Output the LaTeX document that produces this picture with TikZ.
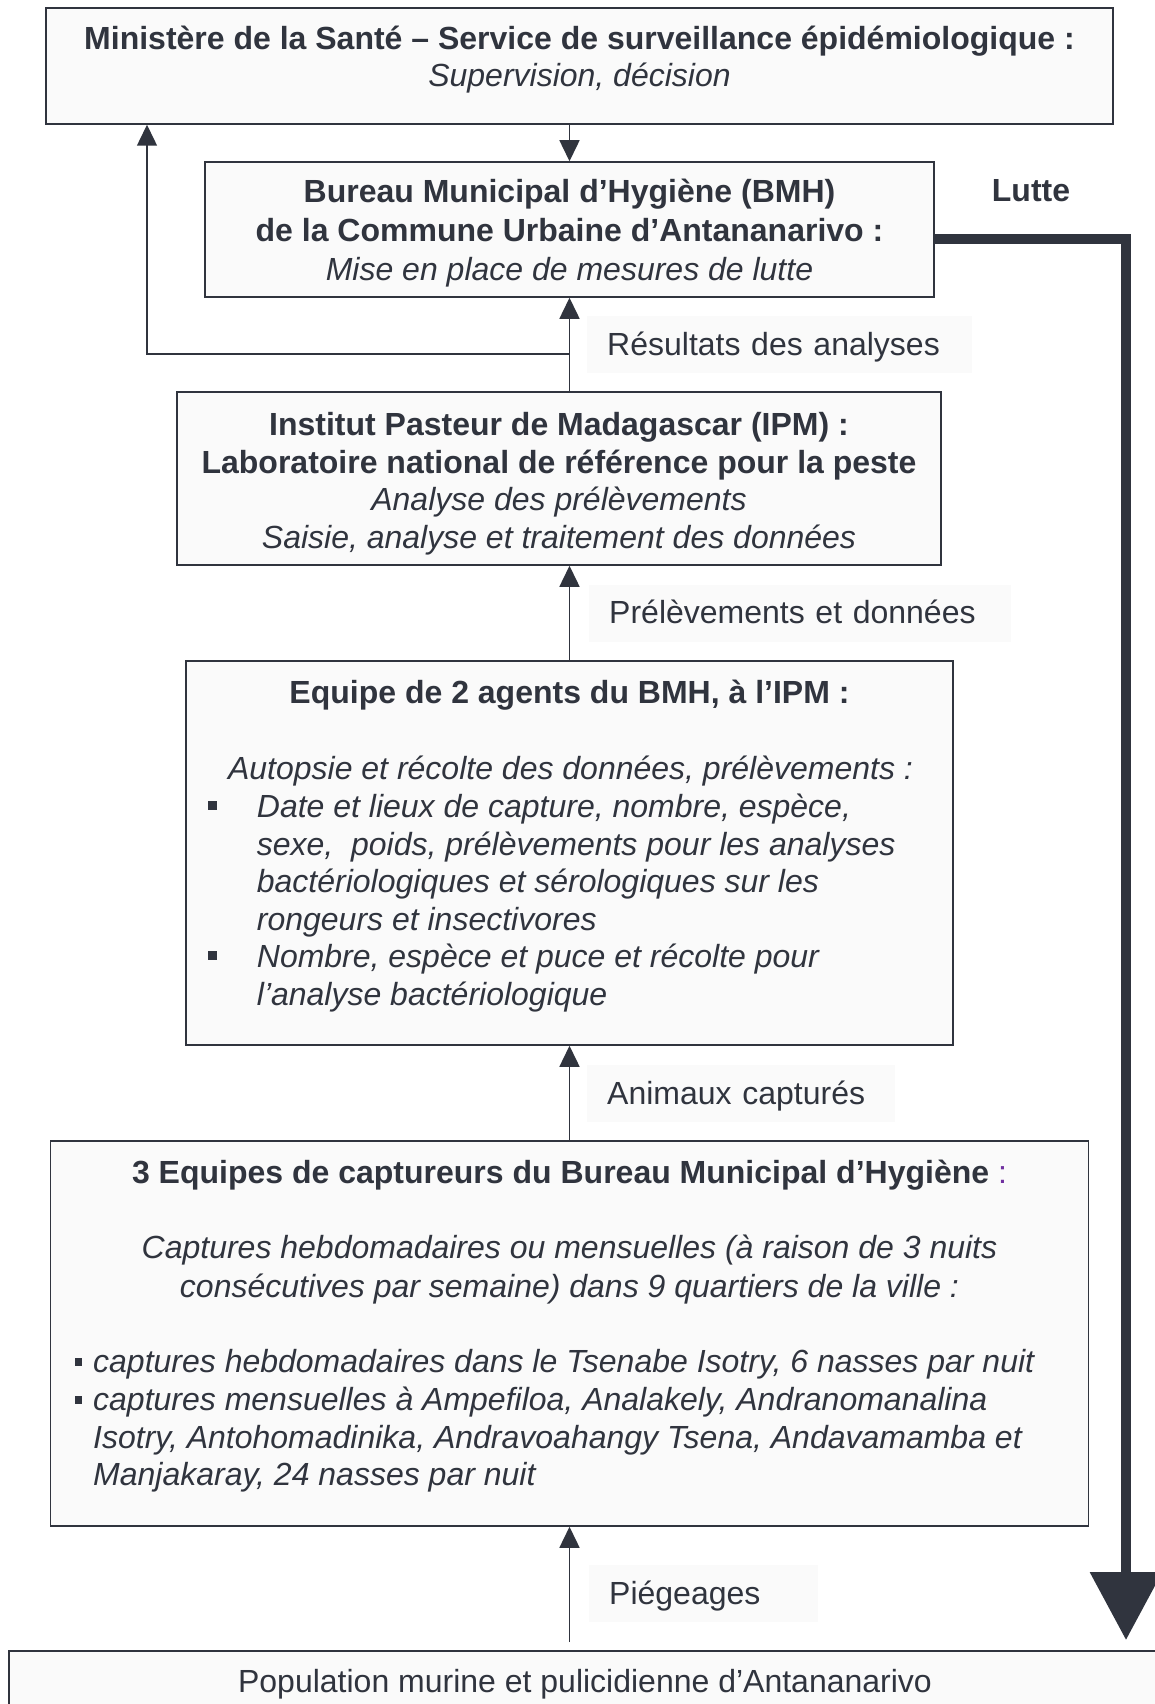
\documentclass[tikz,border=0pt]{standalone}
\usepackage{fontspec}
\setmainfont{Liberation Sans}
\usetikzlibrary{arrows.meta}
\definecolor{ink}{HTML}{30343E}
\definecolor{boxfill}{HTML}{FAFAFA}
\definecolor{colonpurple}{HTML}{7030A0}
\begin{document}
\begin{tikzpicture}[x=1pt,y=-1pt,
  every node/.style={font=\fontsize{32}{38}\selectfont, text=ink},
  box/.style={draw=ink, line width=1.5pt, fill=boxfill, rectangle, inner sep=0pt},
  txt/.style={anchor=base, inner sep=0pt},
  txtl/.style={anchor=base west, inner sep=0pt},
  bftxt/.style={font=\fontsize{32}{38}\selectfont\bfseries},
  ittxt/.style={font=\fontsize{32}{38}\selectfont\itshape},
  lbl/.style={fill=boxfill, anchor=west, inner xsep=20pt, inner ysep=0pt, minimum height=57pt, text height=24pt, text depth=3pt, align=left},
  arr/.style={draw=ink, line width=1.5pt, -{Triangle[width=20pt,length=21pt]}},
  bigarrow/.style={draw=ink, line width=10pt, -{Triangle[width=70pt,length=68pt]}, line join=miter}
]
\useasboundingbox (0,0) rectangle (1155,1704);
\clip (0,0) rectangle (1155,1704);

% ---------- boxes ----------
\node[box, minimum width=1067pt, minimum height=116pt] (top) at (579.5,66) {};
\node[box, minimum width=729pt, minimum height=135pt] (bmh) at (569.5,229.5) {};
\node[box, minimum width=764pt, minimum height=173pt] (ipm) at (559,478.5) {};
\node[box, minimum width=767pt, minimum height=384pt] (equipe) at (569.5,853) {};
\node[box, minimum width=1038pt, minimum height=385pt] (capt) at (569.5,1333.5) {};
\node[box, minimum width=1152pt, minimum height=109pt] (pop) at (585,1705.5) {};

% ---------- texts: top ----------
\node[txt, bftxt] (t1) at (579.5,50) {Ministère de la Santé – Service de surveillance épidémiologique :};
\node[txt, ittxt] (t2) at (579.5,87) {Supervision, décision};

% ---------- texts: BMH ----------
\node[txt, bftxt] (b1) at (569.5,203) {Bureau Municipal d’Hygiène (BMH)};
\node[txt, bftxt] (b2) at (569.5,242) {de la Commune Urbaine d’Antananarivo :};
\node[txt, ittxt] (b3) at (569.5,280) {Mise en place de mesures de lutte};
\node[txt, bftxt] (lutte) at (1031,202) {Lutte};

% ---------- texts: IPM ----------
\node[txt, bftxt] (i1) at (559,435) {Institut Pasteur de Madagascar (IPM) :};
\node[txt, bftxt] (i2) at (559,473) {Laboratoire national de référence pour la peste};
\node[txt, ittxt] (i3) at (559,510) {Analyse des prélèvements};
\node[txt, ittxt] (i4) at (559,548) {Saisie, analyse et traitement des données};

% ---------- texts: Equipe ----------
\node[txt, bftxt] (e1) at (569.5,703) {Equipe de 2 agents du BMH, à l’IPM :};
\node[txt, ittxt] (e2) at (570.5,779) {Autopsie et récolte des données, prélèvements :};
\node[txtl, ittxt] (e3) at (256.7,817) {Date et lieux de capture, nombre, espèce,};
\node[txtl, ittxt] (e4) at (256.7,855) {sexe,\ \ poids, prélèvements pour les analyses};
\node[txtl, ittxt] (e5) at (256.7,892) {bactériologiques et sérologiques sur les};
\node[txtl, ittxt] (e6) at (256.7,930) {rongeurs et insectivores};
\node[txtl, ittxt] (e7) at (256.7,967) {Nombre, espèce et puce et récolte pour};
\node[txtl, ittxt] (e8) at (256.7,1005) {l’analyse bactériologique};
\fill[ink] (207.8,801) rectangle (217,810);
\fill[ink] (207.8,951) rectangle (217,960);

% ---------- texts: captureurs ----------
\node[txt, bftxt] (c1) at (569.5,1183) {3 Equipes de captureurs du Bureau Municipal d’Hygiène{\mdseries\color{colonpurple}\ :}};
\node[txt, ittxt] (c2) at (569.5,1258) {Captures hebdomadaires ou mensuelles (à raison de 3 nuits};
\node[txt, ittxt] (c3) at (569.5,1297) {consécutives par semaine) dans 9 quartiers de la ville :};
\node[txtl, ittxt] (c4) at (93,1372) {captures hebdomadaires dans le Tsenabe Isotry, 6 nasses par nuit};
\node[txtl, ittxt] (c5) at (93,1410) {captures mensuelles à Ampefiloa, Analakely, Andranomanalina};
\node[txtl, ittxt] (c6) at (93,1448) {Isotry, Antohomadinika, Andravoahangy Tsena, Andavamamba et};
\node[txtl, ittxt] (c7) at (93,1485) {Manjakaray, 24 nasses par nuit};
\fill[ink] (75,1358) rectangle (82.3,1366);
\fill[ink] (75,1396) rectangle (82.3,1404);

% ---------- bottom ----------
\node[txt] (p1) at (585,1692) {Population murine et pulicidienne d’Antananarivo};

% ---------- labels ----------
\node[lbl, text width=345pt] (lres) at (587,344.5) {Résultats des analyses};
\node[lbl, text width=382pt] (lprel) at (589,613) {Prélèvements et données};
\node[lbl, text width=268pt] (lanim) at (587,1093.5) {Animaux capturés};
\node[lbl, text width=189pt] (lpieg) at (589,1593.5) {Piégeages};

% ---------- connectors ----------
\coordinate (jn) at (569.5,354);
\coordinate (lft) at (147,354);
\coordinate (pstart) at (569.5,1642);
\coordinate (lutteCorner) at (1126,239);
\coordinate (lutteEnd) at (1126,1640);

\draw[arr] (top.south -| bmh.north) -- (bmh.north);
\draw[arr] (ipm.north -| bmh.south) -- (bmh.south);
\draw[arr] (jn) -- (lft) -- (lft |- top.south);
\draw[arr] (equipe.north) -- (equipe.north |- ipm.south);
\draw[arr] (capt.north) -- (capt.north |- equipe.south);
\draw[arr] (pstart) -- (pstart |- capt.south);
\draw[bigarrow] (bmh.east |- lutteCorner) -- (lutteCorner) -- (lutteEnd);
\end{tikzpicture}
\end{document}
